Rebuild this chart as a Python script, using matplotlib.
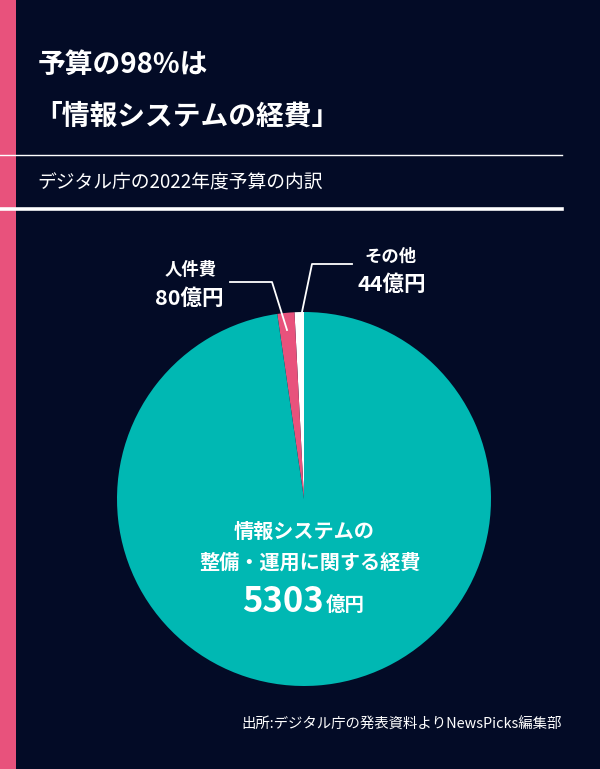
import matplotlib
matplotlib.use("Agg")
import matplotlib.pyplot as plt
from matplotlib.lines import Line2D
from matplotlib.patches import Rectangle

plt.rcParams['font.family'] = ['Noto Sans CJK JP', 'DejaVu Sans']

# Data
categories = ["その他", "人件費", "情報システムの\n整備・運用に関する経費"]
values = [44, 80, 5303]  # 億円
colors = ["#FFFFFF", "#E8527C", "#00B8B3"]

title_lines = ["予算の98%は", "「情報システムの経費」"]
subtitle = "デジタル庁の2022年度予算の内訳"
source = "出所:デジタル庁の発表資料よりNewsPicks編集部"

BG = "#030B26"
W, H = 600, 769
fig = plt.figure(figsize=(W / 100, H / 100), dpi=100, facecolor=BG)

def fx(x):
    return x / W

def fy(y):
    return 1 - y / H

# left pink bar
fig.patches.append(Rectangle((0, 0), fx(16), 1, transform=fig.transFigure,
                             facecolor="#E8527C", edgecolor="none", zorder=0))
# separator lines
fig.add_artist(Line2D([0, fx(562)], [fy(155), fy(155)], color="white", lw=1.0,
                      transform=fig.transFigure))
fig.add_artist(Line2D([0, fx(562)], [fy(209), fy(209)], color="white", lw=2.6,
                      transform=fig.transFigure))

# titles
fig.text(fx(38), fy(65), title_lines[0], color="white", fontsize=20,
         fontweight="bold", ha="left", va="center")
fig.text(fx(34), fy(117), title_lines[1], color="white", fontsize=20,
         fontweight="bold", ha="left", va="center")
fig.text(fx(37), fy(183), subtitle, color="white", fontsize=13.5,
         ha="left", va="center")

# pie
cx, cy, r = 304, 499, 187
ax = fig.add_axes([fx(cx - r), fy(cy + r), (2 * r) / W, (2 * r) / H])
ax.set_facecolor("none")
ax.pie(values, colors=colors, startangle=90, counterclock=True, radius=1,
       wedgeprops=dict(linewidth=0))
ax.set_xlim(-1, 1)
ax.set_ylim(-1, 1)
ax.set_aspect("equal")
ax.axis("off")

# leader lines
fig.add_artist(Line2D([fx(230), fx(272), fx(287)], [fy(282), fy(282), fy(330)],
                      color="white", lw=1.3, transform=fig.transFigure))
fig.add_artist(Line2D([fx(352), fx(312), fx(302)], [fy(264), fy(264), fy(312)],
                      color="white", lw=1.3, transform=fig.transFigure))

# outside labels
fig.text(fx(191), fy(270), categories[1], color="white", fontsize=12.5,
         fontweight="bold", ha="center", va="center")
fig.text(fx(189), fy(298), f"{values[1]}億円", color="white", fontsize=15.5,
         fontweight="bold", ha="center", va="center")
fig.text(fx(391), fy(257), categories[0], color="white", fontsize=12.5,
         fontweight="bold", ha="center", va="center")
fig.text(fx(392), fy(284), f"{values[0]}億円", color="white", fontsize=15.5,
         fontweight="bold", ha="center", va="center")

# inside label
l1, l2 = categories[2].split("\n")
fig.text(fx(304), fy(531), l1, color="white", fontsize=14.5,
         fontweight="bold", ha="center", va="center")
fig.text(fx(310), fy(562), l2, color="white", fontsize=14.5,
         fontweight="bold", ha="center", va="center")
fig.text(fx(324), fy(601), f"{values[2]}", color="white", fontsize=25,
         fontweight="bold", ha="right", va="center")
fig.text(fx(326), fy(605), "億円", color="white", fontsize=14,
         fontweight="bold", ha="left", va="center")

# source
fig.text(fx(562), fy(725), source, color="white", fontsize=10.4,
         ha="right", va="center")

fig.savefig("out.png", dpi=100, facecolor=BG)
